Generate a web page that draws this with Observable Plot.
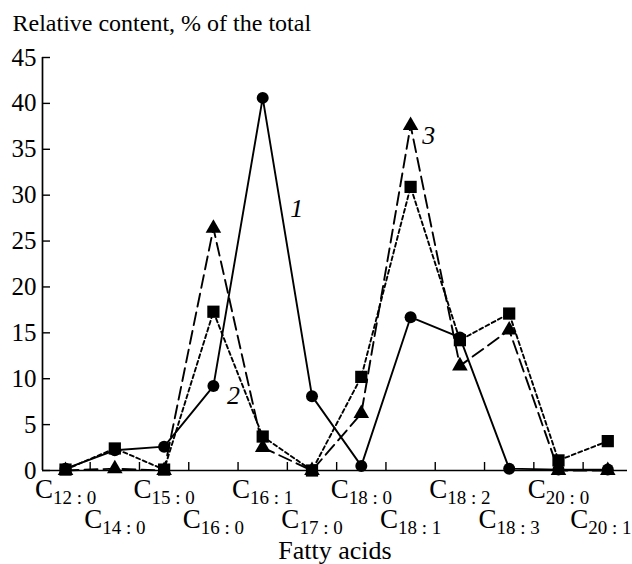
<!DOCTYPE html>
<html><head><meta charset="utf-8">
<script src="https://cdn.jsdelivr.net/npm/d3@7"></script>
<script src="https://cdn.jsdelivr.net/npm/@observablehq/plot@0.6"></script>
<style>
body{margin:0;background:#fff;}
#chart svg{overflow:visible;}
#chart svg text, #chart svg tspan { font-family: "Liberation Serif", "Times New Roman", "DejaVu Serif", serif !important; }
</style>
</head><body><div id="chart"></div>
<script>
// Fatty acid categories (subscript part of C-labels)
const categories = ["12 : 0","14 : 0","15 : 0","16 : 0","16 : 1","17 : 0","18 : 0","18 : 1","18 : 2","18 : 3","20 : 0","20 : 1"];
// Curve 1 (circles, solid)
const series1 = [0.2, 2.2, 2.6, 9.2, 40.6, 8.1, 0.5, 16.7, 14.5, 0.2, 0.1, 0.1];
// Curve 2 (squares, short dashes)
const series2 = [0.1, 2.4, 0.1, 17.3, 3.7, 0.0, 10.2, 30.9, 14.2, 17.1, 1.1, 3.2];
// Curve 3 (triangles, long dashes)
const series3 = [0.0, 0.2, 0.0, 26.4, 2.5, 0.0, 6.2, 37.6, 11.4, 15.3, 0.0, 0.0];
const yTicks = [0, 5, 10, 15, 20, 25, 30, 35, 40, 45];
const title = "Relative content, % of the total";
const xTitle = "Fatty acids";
// curve number annotations (category index, value)
const curveLabels = [
  {text: "1", i: 4.69, v: 28.5},
  {text: "2", i: 3.41, v: 8.2},
  {text: "3", i: 7.37, v: 36.5}
];

const xDomain = [-0.467, 11.4];
const rows = (vals) => vals.map((v, i) => ({i, v}));
const labelRows = categories.map((sub, i) => ({i, text: "C" + sub}));
const lastIndex = categories.length - 1;
const mids = categories.slice(1).map((_, i) => i + 0.5);

const serif = "Liberation Serif, Times New Roman, DejaVu Serif, serif";
const labelOpts = {x: "i", y: () => 0, text: "text", lineAnchor: "bottom", fontSize: 27, fill: "#000"};

const chart = Plot.plot({
  width: 632,
  height: 564,
  marginLeft: 42,
  marginRight: 5,
  marginTop: 57,
  marginBottom: 94,
  style: {fontFamily: serif, background: "#fff", color: "#000"},
  x: {type: "linear", domain: xDomain},
  y: {domain: [0, 45]},
  marks: [
    // axis lines
    Plot.ruleY([0], {stroke: "#000", strokeWidth: 1.7}),
    Plot.ruleX([xDomain[0]], {y1: 0, y2: 45, stroke: "#000", strokeWidth: 1.7}),
    // y ticks (inward) and labels
    Plot.axisY(yTicks, {tickSize: 8, dx: 8, text: null, label: null, strokeWidth: 1.4}),
    Plot.axisY(yTicks, {tickSize: 0, tickPadding: 6, fontSize: 25, label: null, fill: "#000"}),
    // x ticks (inward, between categories)
    Plot.axisX(mids, {tickSize: 8, dy: -8, text: null, label: null, strokeWidth: 1.4}),
    // x category labels, two rows (last one nudged to stay inside)
    Plot.text(labelRows.filter(d => d.i % 2 === 0), {...labelOpts, dy: 27}),
    Plot.text(labelRows.filter(d => d.i % 2 === 1 && d.i !== lastIndex), {...labelOpts, dy: 57}),
    Plot.text(labelRows.filter(d => d.i === lastIndex), {...labelOpts, dy: 57, dx: -7}),
    // axis titles
    Plot.text([xTitle], {frameAnchor: "bottom", dy: 88, lineAnchor: "bottom", fontSize: 26, fill: "#000"}),
    Plot.text([title], {frameAnchor: "top-left", textAnchor: "start", dx: -30, dy: -27, lineAnchor: "bottom", fontSize: 24, fill: "#000"}),
    // lines
    Plot.line(rows(series1), {x: "i", y: "v", stroke: "#000", strokeWidth: 1.9}),
    Plot.line(rows(series3), {x: "i", y: "v", stroke: "#000", strokeWidth: 1.9, strokeDasharray: "13,6"}),
    Plot.line(rows(series2), {x: "i", y: "v", stroke: "#000", strokeWidth: 1.9, strokeDasharray: "4,3"}),
    // markers
    Plot.dot(rows(series3), {x: "i", y: "v", symbol: "triangle", r: 5.8, fill: "#000", stroke: "none"}),
    Plot.dot(rows(series2), {x: "i", y: "v", symbol: "square", r: 6.9, fill: "#000", stroke: "none"}),
    Plot.dot(rows(series1), {x: "i", y: "v", symbol: "circle", r: 6, fill: "#000", stroke: "none"}),
    // curve numbers
    Plot.text(curveLabels, {x: "i", y: "v", text: "text", fontSize: 26, fontStyle: "italic", fill: "#000"})
  ]
});

document.getElementById("chart").appendChild(chart);

// turn "C12 : 0" into C with subscript
d3.select(chart).selectAll("text")
  .filter(function() { return /^C\d/.test(this.textContent); })
  .each(function() {
    const full = this.textContent;
    const sel = d3.select(this);
    sel.text(null);
    sel.append("tspan").text(full.slice(0, 1));
    sel.append("tspan").attr("dy", 6).attr("font-size", 19).text(full.slice(1));
  });
</script>
</body></html>
